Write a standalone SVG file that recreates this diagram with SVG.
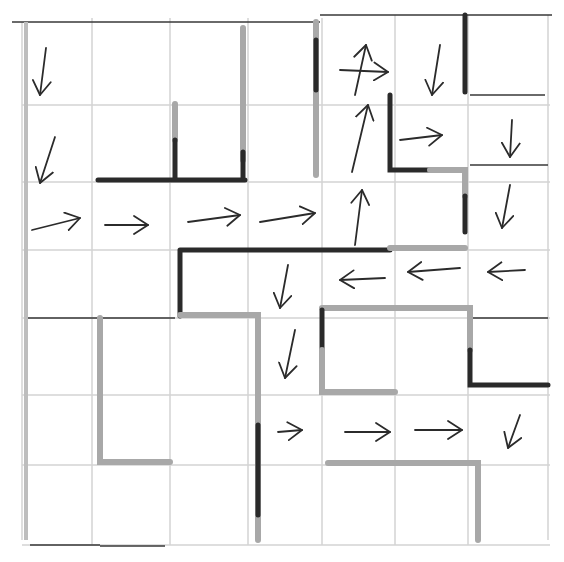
<svg xmlns="http://www.w3.org/2000/svg" width="564" height="562" viewBox="0 0 564 562">
<defs>
<marker id="h" markerWidth="20" markerHeight="20" refX="15" refY="10" orient="auto" markerUnits="userSpaceOnUse">
<path d="M1,1 L15,10 L1,19" fill="none" stroke="#2b2b2b" stroke-width="1.8" stroke-linecap="round" stroke-linejoin="round"/>
</marker>
</defs>
<style>
.g{stroke:#d4d4d4;stroke-width:1.5;fill:none}
.b{stroke:#3a3a3a;stroke-width:1.6;fill:none}
.d{stroke:#2a2a2a;stroke-width:5;fill:none;stroke-linecap:round}
.l{stroke:#a8a8a8;stroke-width:6;fill:none;stroke-linecap:round}
.a{stroke:#2b2b2b;stroke-width:1.8;fill:none;stroke-linecap:round;marker-end:url(#h)}
</style>
<rect width="564" height="562" fill="#ffffff"/>
<g id="grid">
<path class="g" d="M92,18V545M170,18V545M248,18V545M322,18V545M395,15V545M468,15V545"/>
<path class="g" d="M22,105H550M22,182H550M22,250H550M22,318H550M22,395H550M22,465H550"/>
<path class="g" d="M22,22V540M548,15V540M22,545H550"/>
<path class="b" d="M12,22H320M320,15H552"/>
<path class="b" d="M30,545H100M100,546H165" stroke-width="1.2"/>
<path class="b" d="M25,318H92M92,318H175" stroke-width="1.4"/>
<path class="b" d="M468,318H548M470,95H545M470,165H548" stroke-width="1.2"/>
</g>
<g id="walls">
<path class="l" d="M243,28V160M175,104V140M316,22V175"/>
<path d="M26,22V540" stroke="#bdbdbd" stroke-width="4" fill="none"/>
<path class="d" d="M243,152V178M175,140V178M98,180H245M316,40V90M465,15V92"/>
<path class="d" d="M390,95V170H430"/>
<path class="l" d="M430,170H465V196"/>
<path class="d" d="M465,196V232"/>
<path class="d" d="M180,250V316M180,250H390"/>
<path class="l" d="M390,248H465"/>
<path class="l" d="M180,315H258V540"/>
<path class="d" d="M258,425V515"/>
<path class="l" d="M322,308H470V350"/>
<path class="d" d="M322,310V350"/>
<path class="l" d="M322,350V392H395"/>
<path class="d" d="M470,350V385H548"/>
<path class="l" d="M100,318V462H170"/>
<path class="l" d="M328,463H478V540"/>
</g>
<g id="arrows">
<path class="a" d="M46,48L40,95"/>
<path class="a" d="M55,137L40,183"/>
<path class="a" d="M32,230L80,218"/>
<path class="a" d="M105,225L148,225"/>
<path class="a" d="M188,222L240,215"/>
<path class="a" d="M260,222L315,213"/>
<path class="a" d="M340,70L388,72"/>
<path class="a" d="M355,95L366,45"/>
<path class="a" d="M440,45L432,95"/>
<path class="a" d="M352,172L368,105"/>
<path class="a" d="M400,140L442,135"/>
<path class="a" d="M512,120L510,157"/>
<path class="a" d="M355,245L362,190"/>
<path class="a" d="M510,185L502,228"/>
<path class="a" d="M288,265L280,308"/>
<path class="a" d="M385,278L340,280"/>
<path class="a" d="M460,268L408,272"/>
<path class="a" d="M525,270L488,272"/>
<path class="a" d="M295,330L285,378"/>
<path class="a" d="M278,432L302,430"/>
<path class="a" d="M345,432L390,432"/>
<path class="a" d="M415,430L462,430"/>
<path class="a" d="M520,415L508,448"/>
</g>
</svg>
